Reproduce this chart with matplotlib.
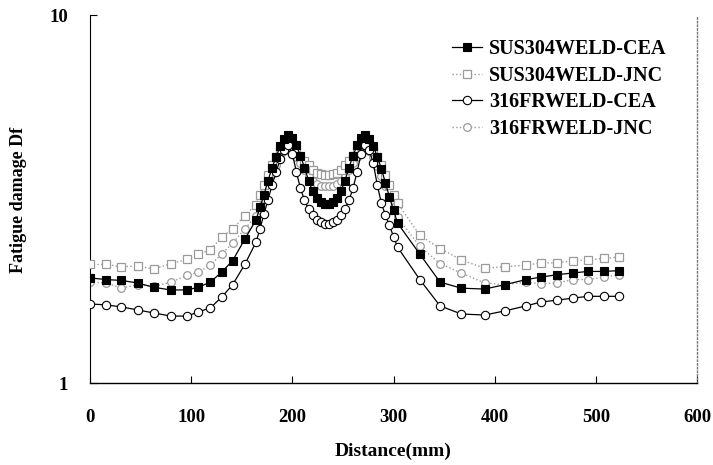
import matplotlib
matplotlib.use("Agg")
import matplotlib.pyplot as plt

plt.rcParams['font.family'] = ['Liberation Serif', 'DejaVu Serif']
plt.rcParams['font.weight'] = 'bold'

distance = [0, 16, 31, 47, 63, 80, 96, 107, 119, 130, 141, 153,
            164, 168, 172, 176, 180, 184, 188, 192, 196, 200, 204, 208,
            212, 216, 220, 224, 228, 232, 236, 240, 244, 248, 252, 256,
            260, 264, 268, 272, 276, 280, 284, 288, 292, 296, 300, 304,
            326, 346, 367, 390, 410, 431, 446, 462, 477, 492, 508, 523]

sus304_cea = [1.93, 1.91, 1.90, 1.87, 1.82, 1.79, 1.79, 1.82, 1.88, 2.00, 2.15, 2.46,
              2.77, 3.00, 3.25, 3.55, 3.85, 4.12, 4.40, 4.60, 4.72, 4.62, 4.42, 4.15,
              3.85, 3.55, 3.32, 3.18, 3.10, 3.07, 3.07, 3.10, 3.18, 3.32, 3.55, 3.85,
              4.15, 4.42, 4.62, 4.72, 4.60, 4.40, 4.12, 3.82, 3.50, 3.20, 2.95, 2.72,
              2.24, 1.88, 1.81, 1.80, 1.85, 1.91, 1.94, 1.97, 1.99, 2.01, 2.01, 2.02]

sus304_jnc = [2.10, 2.10, 2.07, 2.08, 2.04, 2.11, 2.17, 2.24, 2.30, 2.49, 2.62, 2.85,
              3.05, 3.25, 3.45, 3.68, 3.90, 4.10, 4.28, 4.40, 4.45, 4.40, 4.28, 4.15,
              4.02, 3.90, 3.80, 3.73, 3.70, 3.68, 3.68, 3.70, 3.73, 3.80, 3.90, 4.02,
              4.15, 4.28, 4.40, 4.45, 4.40, 4.28, 4.10, 3.90, 3.68, 3.45, 3.25, 3.08,
              2.52, 2.32, 2.16, 2.05, 2.07, 2.09, 2.12, 2.12, 2.15, 2.16, 2.18, 2.20]

fr316_cea = [1.64, 1.63, 1.61, 1.58, 1.55, 1.52, 1.52, 1.56, 1.60, 1.71, 1.85, 2.10,
             2.41, 2.62, 2.88, 3.15, 3.45, 3.75, 4.05, 4.30, 4.42, 4.20, 3.75, 3.38,
             3.14, 2.97, 2.86, 2.78, 2.73, 2.71, 2.71, 2.73, 2.78, 2.86, 2.97, 3.14,
             3.38, 3.75, 4.20, 4.42, 4.30, 3.95, 3.45, 3.08, 2.86, 2.68, 2.50, 2.34,
             1.91, 1.62, 1.54, 1.53, 1.57, 1.62, 1.66, 1.68, 1.70, 1.72, 1.72, 1.72]

fr316_jnc = [1.88, 1.87, 1.81, 1.85, 1.83, 1.88, 1.96, 2.00, 2.09, 2.24, 2.40, 2.62,
             2.85, 3.05, 3.25, 3.48, 3.70, 3.92, 4.12, 4.28, 4.35, 4.28, 4.12, 3.95,
             3.80, 3.66, 3.55, 3.47, 3.43, 3.42, 3.42, 3.43, 3.47, 3.55, 3.66, 3.80,
             3.95, 4.12, 4.28, 4.35, 4.28, 4.10, 3.88, 3.65, 3.42, 3.20, 3.00, 2.82,
             2.35, 2.11, 1.99, 1.87, 1.85, 1.88, 1.86, 1.87, 1.91, 1.91, 1.94, 1.97]

labels = ['SUS304WELD-CEA', 'SUS304WELD-JNC', '316FRWELD-CEA', '316FRWELD-JNC']
x_ticks = [0, 100, 200, 300, 400, 500, 600]
y_ticks = [1, 10]

W, H = 713, 465
fig = plt.figure(figsize=(W / 100, H / 100), dpi=100)
ax = fig.add_axes([90 / W, 1 - 383 / H, 607 / W, 368 / H])

gray = '#9a9a9a'
h_fj, = ax.plot(distance, fr316_jnc, linestyle=':', color=gray, lw=1.0,
                marker='o', ms=5.5, mfc='white', mec=gray, mew=0.9, zorder=2)
h_sj, = ax.plot(distance, sus304_jnc, linestyle=':', color=gray, lw=1.0,
                marker='s', ms=5.5, mfc='white', mec=gray, mew=0.9, zorder=3)
h_fc, = ax.plot(distance, fr316_cea, linestyle='-', color='black', lw=0.9,
                marker='o', ms=6, mfc='white', mec='black', mew=0.8, zorder=4)
h_sc, = ax.plot(distance, sus304_cea, linestyle='-', color='black', lw=0.9,
                marker='s', ms=5.5, mfc='black', mec='black', mew=0.8, zorder=5)

ax.set_yscale('log')
ax.set_xlim(0, 600)
ax.set_ylim(1, 10)
ax.set_xticks(x_ticks)
ax.set_xticklabels([str(t) for t in x_ticks], fontsize=13.5, fontweight='bold')
ax.set_yticks(y_ticks)
ax.set_yticklabels(['1', '10'], fontsize=13.5, fontweight='bold')
ax.yaxis.set_minor_locator(matplotlib.ticker.NullLocator())
ax.tick_params(axis='both', direction='in', length=5, width=0.8)
ax.tick_params(axis='x', pad=19)
ax.tick_params(axis='y', pad=16)

ax.spines['top'].set_visible(False)
ax.spines['right'].set_linestyle(':')
ax.spines['right'].set_color('#777777')
ax.spines['right'].set_linewidth(1.0)
ax.spines['left'].set_linewidth(0.8)
ax.spines['bottom'].set_linewidth(1.0)

fig.text(393 / W, 1 - 451 / H, 'Distance(mm)', fontsize=14, fontweight='bold',
         ha='center', va='center')
fig.text(19 / W, 1 - 200 / H, 'Fatigue damage Df', fontsize=13, fontweight='bold',
         ha='center', va='center', rotation=90)

leg = ax.legend([h_sc, h_sj, h_fc, h_fj], labels, loc='upper left',
                bbox_to_anchor=((452 - 90) / 607, (383 - 39) / 368), frameon=False,
                prop={'family': 'Liberation Serif', 'weight': 'bold', 'size': 14.5},
                handlelength=1.5, handletextpad=0.35, labelspacing=0.33,
                borderaxespad=0, borderpad=0)

fig.savefig('out.png', dpi=100)
